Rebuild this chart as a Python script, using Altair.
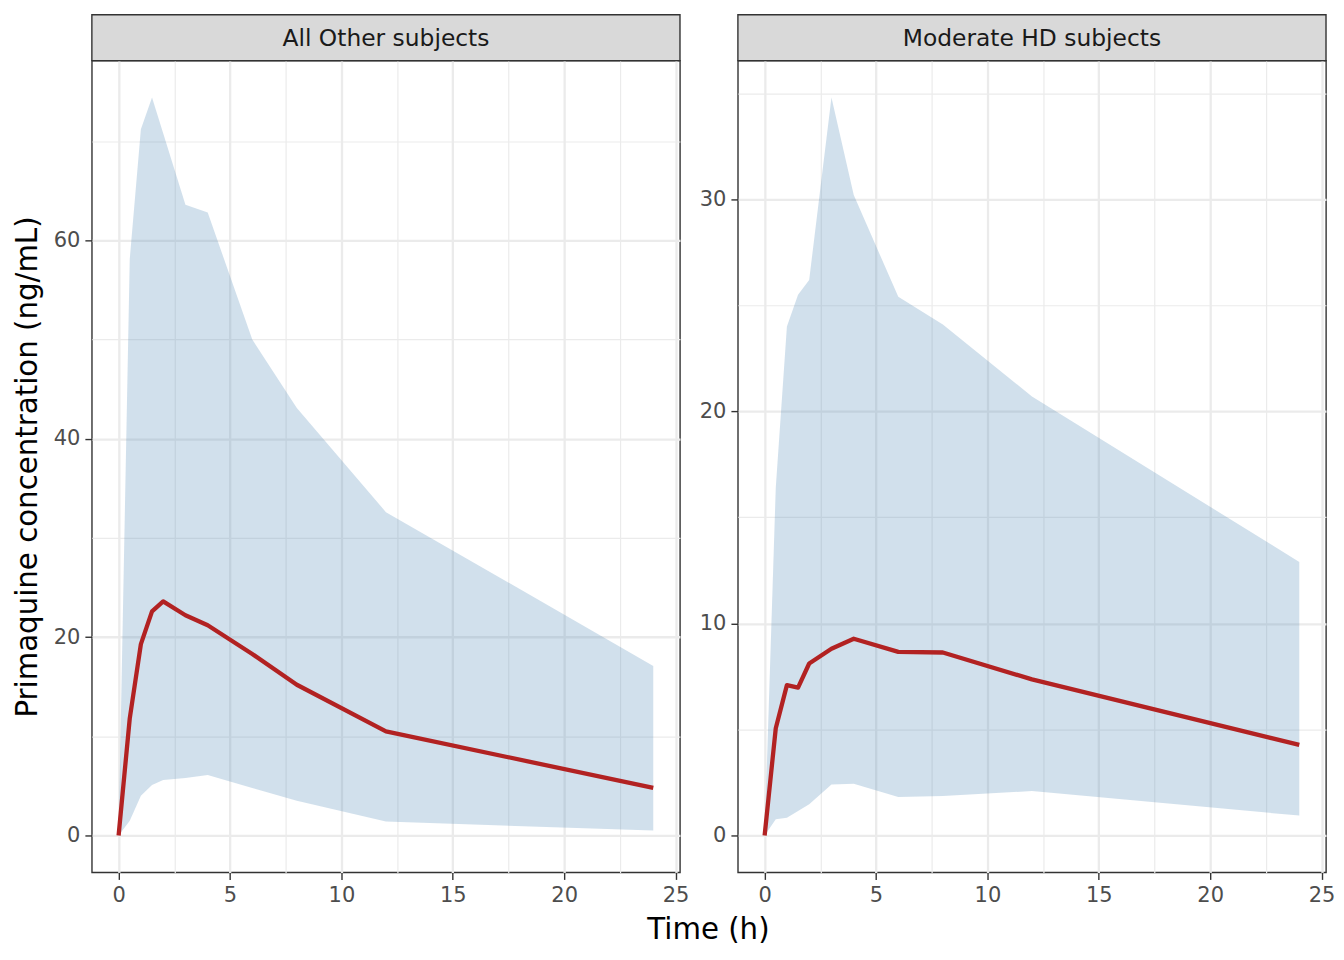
import altair as alt
import pandas as pd

# sampling times (h)
time_h = [0, 0.5, 1, 1.5, 2, 3, 4, 6, 8, 12, 24]

# All Other subjects
other_mean = [0, 11.8, 19.3, 22.6, 23.6, 22.2, 21.2, 18.3, 15.2, 10.5, 4.8]
other_lower = [0, 1.5, 4.0, 5.1, 5.6, 5.8, 6.1, 4.8, 3.5, 1.4, 0.5]
other_upper = [0, 58.1, 71.2, 74.4, 70.8, 63.6, 62.8, 50.0, 43.1, 32.6, 17.1]

# Moderate HD subjects
hd_mean = [0, 5.06, 7.09, 6.97, 8.11, 8.81, 9.28, 8.66, 8.63, 7.36, 4.27]
hd_lower = [0, 0.77, 0.84, 1.16, 1.47, 2.4, 2.44, 1.81, 1.86, 2.1, 0.94]
hd_upper = [0, 16.4, 24.0, 25.5, 26.2, 34.8, 30.2, 25.4, 24.1, 20.7, 12.9]

panel_labels = ["All Other subjects", "Moderate HD subjects"]

x_ticks = [0, 5, 10, 15, 20, 25]
x_minor = [2.5, 7.5, 12.5, 17.5, 22.5]
other_y_ticks = [0, 20, 40, 60]
other_y_minor = [10, 30, 50, 70]
hd_y_ticks = [0, 10, 20, 30]
hd_y_minor = [5, 15, 25, 35]

FONT = "DejaVu Sans"
W, H, STRIP = 589, 813, 46


def expand(lo, hi, frac=0.05):
    pad = (hi - lo) * frac
    return [lo - pad, hi + pad]


def make_panel(label, mean, lower, upper, y_ticks, y_minor, first):
    df = pd.DataFrame({"time": time_h, "mean": mean, "lower": lower, "upper": upper})

    x_scale = alt.Scale(domain=expand(min(time_h), max(time_h)), nice=False, zero=False)
    y_scale = alt.Scale(domain=expand(min(lower + mean), max(upper)), nice=False, zero=False)

    if first:
        x_axis = alt.Axis(values=x_ticks, grid=True, gridWidth=2.3, title="Time (h)",
                          titleX=617, titleY=66, titleBaseline="alphabetic")
        y_axis = alt.Axis(values=y_ticks, grid=True, gridWidth=2.3,
                          title="Primaquine concentration (ng/mL)", titlePadding=11)
    else:
        x_axis = alt.Axis(values=x_ticks, grid=True, gridWidth=2.3, title=None)
        y_axis = alt.Axis(values=y_ticks, grid=True, gridWidth=2.3, title=None)

    x_minor_axis = alt.Axis(values=x_minor, grid=True, gridWidth=1.2, labels=False,
                            ticks=False, domain=False, title=None, orient="bottom")
    y_minor_axis = alt.Axis(values=y_minor, grid=True, gridWidth=1.2, labels=False,
                            ticks=False, domain=False, title=None, orient="left")

    base = alt.Chart(df)

    ribbon = base.mark_area(color="steelblue", opacity=0.25).encode(
        x=alt.X("time:Q", scale=x_scale, axis=x_axis),
        y=alt.Y("lower:Q", scale=y_scale, axis=y_axis),
        y2="upper:Q",
    )

    line = base.mark_line(color="#B22222", strokeWidth=4.3, strokeJoin="round").encode(
        x=alt.X("time:Q", scale=x_scale, axis=x_minor_axis),
        y=alt.Y("mean:Q", scale=y_scale, axis=y_minor_axis),
    )

    # facet strip drawn above the plot area
    strip_df = pd.DataFrame({"label": [label]})
    strip_box = alt.Chart(strip_df).mark_rect(
        fill="#D9D9D9", stroke="#333333", strokeWidth=1.4
    ).encode(
        x=alt.value(0), x2=alt.value(W), y=alt.value(-STRIP), y2=alt.value(0)
    )
    strip_text = alt.Chart(strip_df).mark_text(
        font=FONT, fontSize=23.4, color="#1A1A1A", baseline="middle"
    ).encode(text="label:N", x=alt.value(W / 2), y=alt.value(-STRIP / 2 + 1))

    return (
        alt.layer(ribbon, line, strip_box, strip_text)
        .resolve_axis(x="independent", y="independent")
        .properties(width=W, height=H,
                    view=alt.ViewBackground(fill="white", stroke="#333333", strokeWidth=1.4))
    )


left = make_panel(panel_labels[0], other_mean, other_lower, other_upper,
                  other_y_ticks, other_y_minor, True)
right = make_panel(panel_labels[1], hd_mean, hd_lower, hd_upper,
                   hd_y_ticks, hd_y_minor, False)

chart = (
    alt.hconcat(left, right, spacing=58, bounds="flush")
    .properties(padding={"left": 4, "top": 4, "right": 0, "bottom": 0}, background="white")
    .configure_axis(
        labelFont=FONT, labelFontSize=21, labelColor="#4D4D4D", labelPadding=5,
        tickColor="#333333", tickWidth=1.4, tickSize=7, domain=False,
        gridColor="#EBEBEB",
        titleFont=FONT, titleFontSize=29.3, titleColor="black", titleFontWeight="normal",
    )
)

chart.save("out.html", embed_options={"renderer": "svg", "actions": False})
